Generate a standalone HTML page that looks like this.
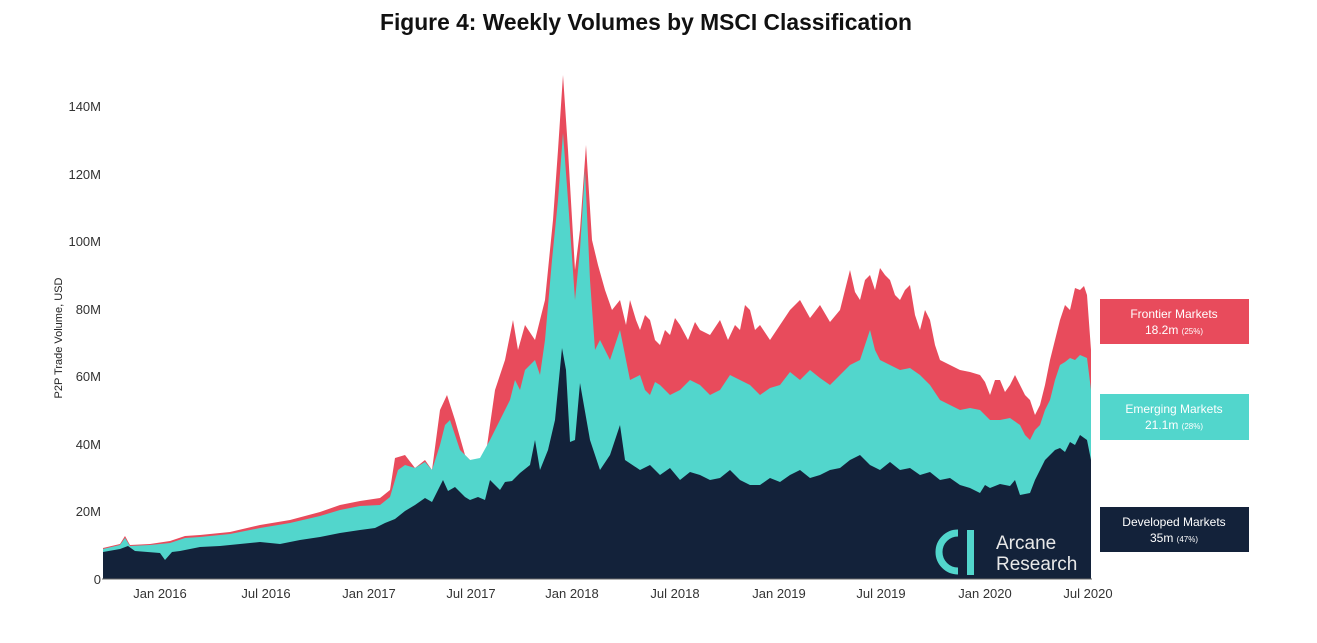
<!DOCTYPE html>
<html><head><meta charset="utf-8"><style>
body{margin:0;background:#fff;width:1317px;height:638px;overflow:hidden;font-family:"Liberation Sans",sans-serif}
</style></head><body>
<svg width="1317" height="638" xmlns="http://www.w3.org/2000/svg">
<text x="646" y="30" text-anchor="middle" font-family="Liberation Sans, sans-serif" font-weight="bold" font-size="23" fill="#111" textLength="532" lengthAdjust="spacingAndGlyphs">Figure 4: Weekly Volumes by MSCI Classification</text>
<g font-family="Liberation Sans, sans-serif" font-size="13" fill="#333" text-anchor="end">
<text x="101" y="111">140M</text><text x="101" y="179">120M</text><text x="101" y="246">100M</text>
<text x="101" y="314">80M</text><text x="101" y="381">60M</text><text x="101" y="449">40M</text>
<text x="101" y="516">20M</text><text x="101" y="584">0</text>
</g>
<text transform="translate(62,338) rotate(-90)" text-anchor="middle" font-family="Liberation Sans, sans-serif" font-size="11" fill="#222">P2P Trade Volume, USD</text>
<polygon fill="#e84b5c" points="103,579 103,548 120,544 125,536 130,545 150,544 170,541 185,536 200,535 230,532 260,525 290,520 320,512 340,505 360,501 380,498 390,490 395,458 405,455 415,468 425,460 432,470 440,410 447,395 455,420 465,455 475,465 485,460 495,390 505,360 513,320 518,350 525,325 535,340 545,300 553,220 558,150 563,75 568,150 575,270 580,230 586,145 592,240 598,265 605,290 612,310 620,300 626,325 630,300 636,320 640,330 645,315 650,320 655,340 660,345 665,330 670,335 675,318 680,325 688,340 695,322 700,330 710,335 720,320 728,340 735,325 740,330 745,305 750,310 755,330 760,325 770,340 780,325 790,310 800,300 810,318 820,305 830,322 840,310 845,290 850,270 855,292 860,300 865,280 870,275 875,290 880,268 885,275 890,280 895,295 900,300 905,290 910,285 915,315 920,330 925,310 930,320 935,345 940,360 950,365 960,370 970,372 980,375 985,382 990,395 995,380 1000,380 1005,392 1010,385 1015,375 1020,385 1025,395 1030,400 1035,415 1040,405 1045,385 1050,360 1055,340 1060,320 1065,305 1070,310 1075,288 1080,290 1084,286 1087,295 1091,350 1091,579"/>
<polygon fill="#52d6cc" points="103,579 103,549 120,545 125,538 130,546 150,545 170,543 185,538 200,537 230,534 260,528 290,523 320,516 340,510 360,506 380,505 390,497 398,470 405,465 415,468 425,462 432,470 440,445 445,425 450,420 460,450 470,460 480,458 490,440 500,420 510,400 515,380 520,390 525,370 535,360 540,375 545,340 552,260 558,200 563,133 568,200 575,300 580,250 585,170 590,280 595,350 600,340 610,360 620,330 630,380 640,375 645,390 650,395 655,382 660,385 670,395 680,390 690,380 700,385 710,395 720,390 730,375 740,380 750,385 760,395 770,388 780,385 790,372 800,380 810,370 820,378 830,385 840,375 850,365 860,360 865,345 870,330 875,350 880,360 890,365 900,370 910,368 920,375 930,385 940,400 950,405 960,410 970,408 980,410 990,420 1000,420 1010,418 1020,425 1025,435 1030,440 1035,430 1040,425 1045,410 1050,400 1055,380 1060,365 1065,362 1070,358 1075,360 1080,355 1087,358 1091,390 1091,579"/>
<polygon fill="#13223a" points="103,579 103,552 120,549 128,546 135,551 160,553 165,560 172,552 180,551 200,547 220,546 240,544 260,542 280,544 300,540 320,537 340,533 360,530 375,528 385,523 395,519 405,511 415,505 425,498 432,502 443,480 448,491 455,487 465,497 470,500 478,497 485,500 490,480 500,490 505,482 512,481 520,473 530,465 535,440 540,470 548,450 555,420 562,348 566,370 570,442 575,440 580,383 590,440 600,470 610,455 620,425 625,460 640,470 650,465 660,475 670,468 680,480 690,472 700,475 710,480 720,478 730,470 740,480 750,485 760,485 770,478 780,482 790,475 800,470 810,478 820,475 830,470 840,468 850,460 860,455 870,465 880,470 890,462 900,470 910,468 920,475 930,472 940,480 950,478 960,485 970,488 980,493 985,485 990,488 1000,484 1010,486 1015,480 1020,495 1030,493 1035,480 1040,470 1045,460 1050,455 1055,450 1060,448 1065,452 1070,442 1075,445 1080,435 1087,440 1091,460 1091,579"/>
<line x1="102" y1="579" x2="1092" y2="579" stroke="#666" stroke-width="1"/>
<g font-family="Liberation Sans, sans-serif" font-size="13" fill="#333" text-anchor="middle">
<text x="160" y="598">Jan 2016</text><text x="266" y="598">Jul 2016</text><text x="369" y="598">Jan 2017</text>
<text x="471" y="598">Jul 2017</text><text x="572" y="598">Jan 2018</text><text x="675" y="598">Jul 2018</text>
<text x="779" y="598">Jan 2019</text><text x="881" y="598">Jul 2019</text><text x="985" y="598">Jan 2020</text>
<text x="1088" y="598">Jul 2020</text>
</g>
<path d="M958,533 A19,19 0 1,0 958,571" fill="none" stroke="#52d6cc" stroke-width="7"/>
<rect x="967" y="530" width="7" height="45" fill="#52d6cc"/>
<text x="996" y="549" font-family="Liberation Sans, sans-serif" font-size="19" fill="#e8e8e8">Arcane</text>
<text x="996" y="570" font-family="Liberation Sans, sans-serif" font-size="19" fill="#e8e8e8">Research</text>
<rect x="1100" y="299" width="149" height="45" fill="#e84b5c"/>
<rect x="1100" y="394" width="149" height="46" fill="#52d6cc"/>
<rect x="1100" y="507" width="149" height="45" fill="#13223a"/>
<g font-family="Liberation Sans, sans-serif" font-size="12" fill="#fff" text-anchor="middle">
<text x="1174" y="318">Frontier Markets</text><text x="1174" y="334">18.2m <tspan font-size="8">(25%)</tspan></text>
<text x="1174" y="413">Emerging Markets</text><text x="1174" y="429">21.1m <tspan font-size="8">(28%)</tspan></text>
<text x="1174" y="526">Developed Markets</text><text x="1174" y="542">35m <tspan font-size="8">(47%)</tspan></text>
</g>
</svg>
</body></html>
